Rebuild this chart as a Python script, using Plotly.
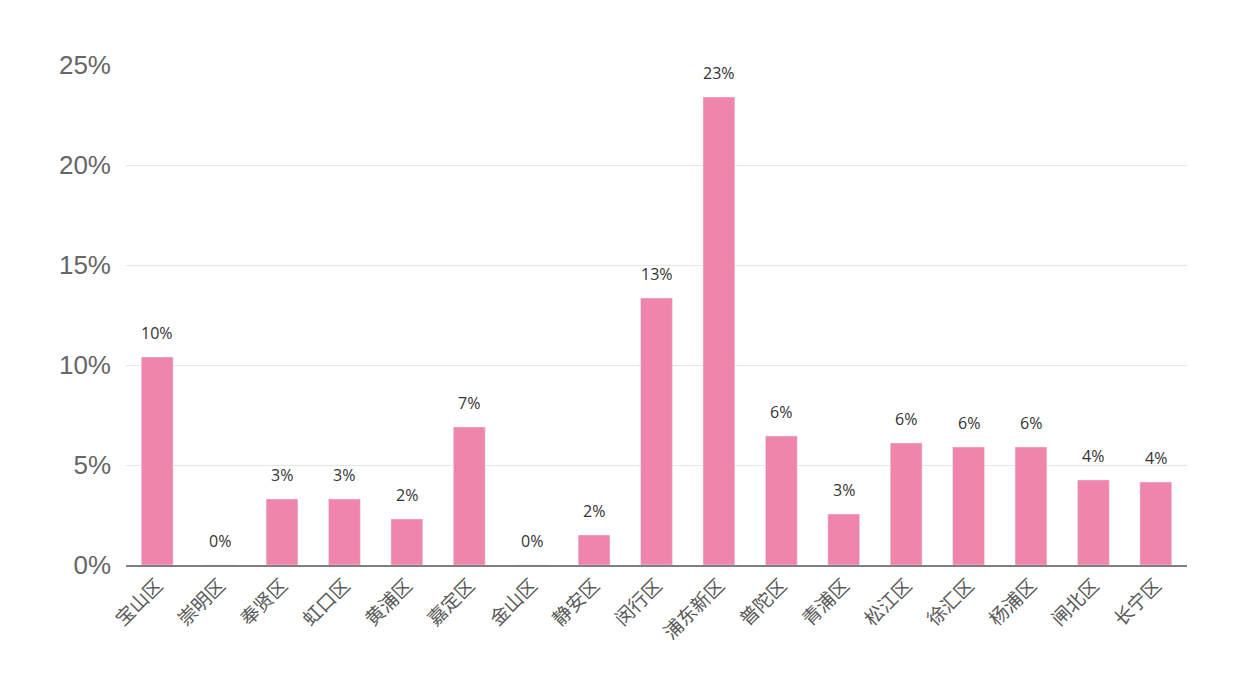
import plotly.graph_objects as go

districts = ['宝山区', '崇明区', '奉贤区', '虹口区', '黄浦区', '嘉定区', '金山区', '静安区', '闵行区',
             '浦东新区', '普陀区', '青浦区', '松江区', '徐汇区', '杨浦区', '闸北区', '长宁区']
share = [0.104, 0.0, 0.033, 0.033, 0.023, 0.069, 0.0, 0.015, 0.1335,
         0.234, 0.0645, 0.0255, 0.061, 0.059, 0.059, 0.0425, 0.0415]
y_ticks = [0, 0.05, 0.10, 0.15, 0.20, 0.25]
y_labels = ['0%', '5%', '10%', '15%', '20%', '25%']

fig = go.Figure(go.Bar(x=districts, y=share, marker_color='#EF84AD', width=0.51))

# value labels sit well above the bars
for d, v in zip(districts, share):
    fig.add_annotation(x=d, y=v, text=f'{v:.0%}', showarrow=False, yanchor='bottom', yshift=11,
                       font=dict(family='Open Sans', size=16, color='#333333'))

fig.update_layout(
    width=1242, height=693,
    margin=dict(l=118, r=63, t=57, b=136),
    plot_bgcolor='white', paper_bgcolor='white',
    showlegend=False,
    xaxis=dict(tickangle=-45, showline=True, linecolor='#7f7f7f', linewidth=1.5, ticks='',
               tickfont=dict(family='Noto Sans CJK SC', size=19, color='#595959')),
    yaxis=dict(range=[0, 0.25], tickvals=y_ticks, ticktext=y_labels, showgrid=True,
               gridcolor='#e6e6e6', zeroline=False, ticklabelstandoff=14,
               tickfont=dict(family='Liberation Sans', size=26, color='#666666')),
)

fig.write_html("out.html")
